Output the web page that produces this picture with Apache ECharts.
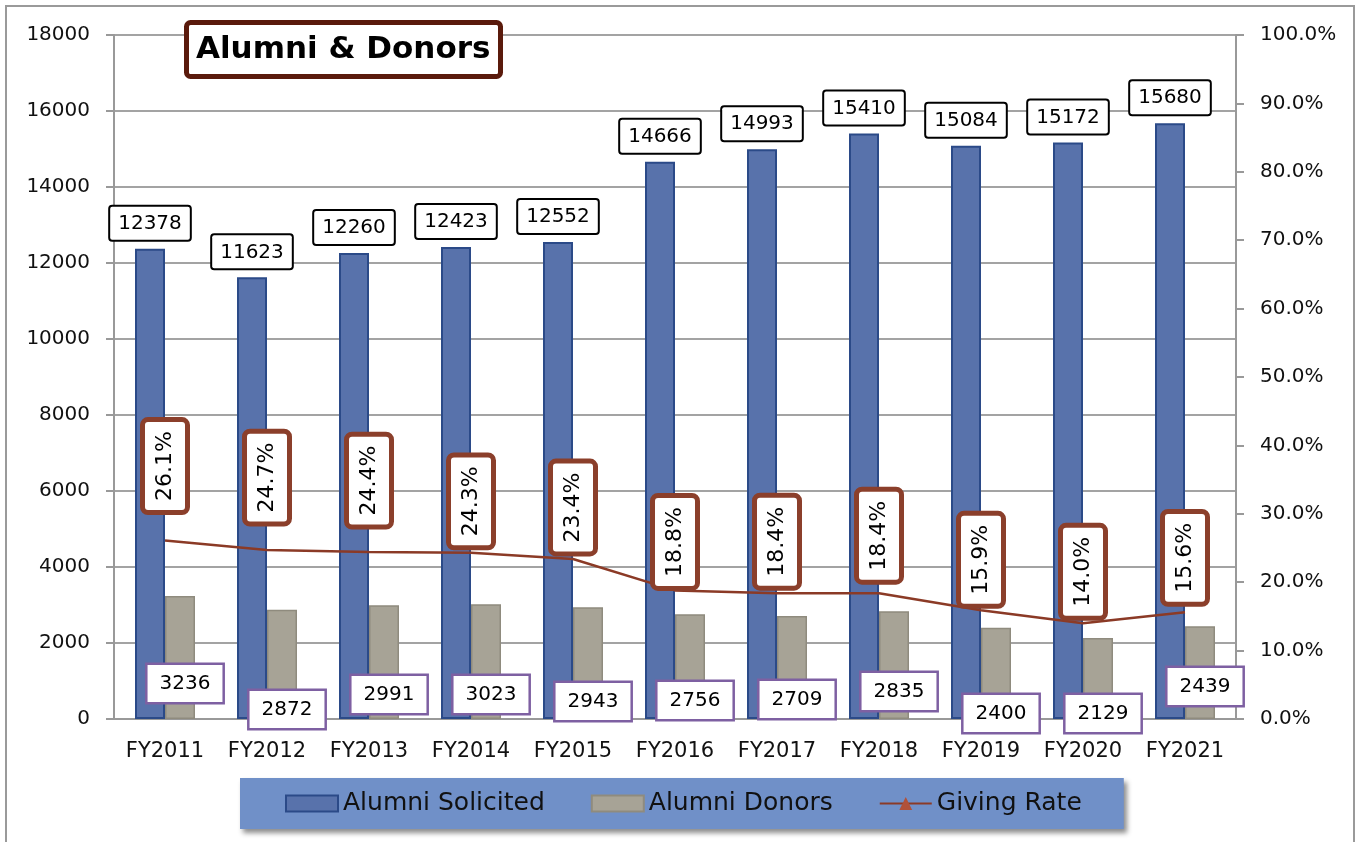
<!DOCTYPE html>
<html>
<head>
<meta charset="utf-8">
<script src="https://cdn.jsdelivr.net/npm/echarts@6/dist/echarts.min.js"></script>
<style>
html,body{margin:0;padding:0;background:#fff;}
#chart{width:1356px;height:842px;}
</style>
</head>
<body>
<div id="chart"></div>
<script>
const categories = ['FY2011','FY2012','FY2013','FY2014','FY2015','FY2016','FY2017','FY2018','FY2019','FY2020','FY2021'];
const alumniSolicited = [12378, 11623, 12260, 12423, 12552, 14666, 14993, 15410, 15084, 15172, 15680];
const alumniDonors = [3236, 2872, 2991, 3023, 2943, 2756, 2709, 2835, 2400, 2129, 2439];
const givingRate = [26.1, 24.7, 24.4, 24.3, 23.4, 18.8, 18.4, 18.4, 15.9, 14.0, 15.6];

// label nudges (layout only)
const rateLabelGap = [30, 28, 27, 7, 7, 4, 7, 13, 6, 7, 10];
const donorLabelLift = [17, -9, 6, 6, -1, 0, 1, 9, -13, -13, 14];

const FONT = 'DejaVu Sans';
const chart = echarts.init(document.getElementById('chart'));

const option = {
  animation: false,
  textStyle: { fontFamily: FONT },
  graphic: [{
    type: 'rect', z: -10,
    shape: { x: 6, y: 6, width: 1348, height: 850 },
    style: { fill: 'none', stroke: '#9a9a9a', lineWidth: 2 }
  }],
  title: {
    text: 'Alumni & Donors',
    left: 186, top: 22,
    padding: [6, 10, 5, 10],
    backgroundColor: '#fff',
    borderColor: '#5a1a0c',
    borderWidth: 5,
    borderRadius: 4,
    textStyle: { fontFamily: FONT, fontSize: 31, fontWeight: 'bold', color: '#000', lineHeight: 44 }
  },
  legend: {
    left: 240, top: 778,
    padding: [13, 42, 13, 45],
    backgroundColor: '#7090c8',
    shadowColor: 'rgba(0,0,0,0.45)', shadowBlur: 5, shadowOffsetX: 3, shadowOffsetY: 4,
    itemWidth: 52, itemHeight: 16, itemGap: 46,
    textStyle: { fontFamily: FONT, fontSize: 25, color: '#111' },
    data: [
      { name: 'Alumni Solicited', icon: 'rect' },
      { name: 'Alumni Donors', icon: 'rect' },
      { name: 'Giving Rate' }
    ]
  },
  grid: { left: 114, right: 120, top: 35, bottom: 123 },
  xAxis: {
    type: 'category',
    data: categories,
    axisLine: { lineStyle: { color: '#999', width: 2 } },
    axisTick: { length: 8, lineStyle: { color: '#999', width: 2 } },
    axisLabel: { interval: 0, fontFamily: FONT, fontSize: 21, color: '#111', margin: 22 }
  },
  yAxis: [{
    type: 'value', min: 0, max: 18000, interval: 2000,
    axisLine: { show: true, lineStyle: { color: '#999', width: 2 } },
    axisTick: { show: true, length: 8, lineStyle: { color: '#999', width: 2 } },
    axisLabel: { fontFamily: FONT, fontSize: 20, color: '#111', margin: 24,
      formatter: v => String(v) },
    splitLine: { lineStyle: { color: '#a3a3a3', width: 2 } }
  }, {
    type: 'value', min: 0, max: 100, interval: 10,
    axisLine: { show: true, lineStyle: { color: '#999', width: 2 } },
    axisTick: { show: true, length: 8, lineStyle: { color: '#999', width: 2 } },
    axisLabel: { fontFamily: FONT, fontSize: 20, color: '#111', margin: 24,
      formatter: v => v.toFixed(1) + '%' },
    splitLine: { show: false }
  }],
  series: [{
    name: 'Alumni Solicited',
    type: 'bar',
    barWidth: 30, barGap: '0%',
    data: alumniSolicited,
    itemStyle: { color: '#5872ab', borderColor: '#2b4a88', borderWidth: 2 },
    label: {
      show: true, position: 'top', distance: 9,
      fontFamily: FONT, fontSize: 20, color: '#000', lineHeight: 22,
      backgroundColor: '#fff', borderColor: '#000', borderWidth: 2, borderRadius: 2,
      padding: [6, 8, 5, 8]
    }
  }, {
    name: 'Alumni Donors',
    type: 'bar',
    barWidth: 30,
    data: alumniDonors.map((v, i) => ({
      value: v,
      label: { offset: [5, -donorLabelLift[i]] }
    })),
    itemStyle: { color: '#a7a396', borderColor: '#8f8b7e', borderWidth: 1.5 },
    label: {
      show: true, position: 'insideBottom', distance: 0,
      fontFamily: FONT, fontSize: 20, color: '#000', lineHeight: 24,
      backgroundColor: '#fff', borderColor: '#7e60a2', borderWidth: 2.5,
      padding: [7, 12, 6, 12]
    },
    z: 3
  }, {
    name: 'Giving Rate',
    type: 'line',
    yAxisIndex: 1,
    symbol: 'triangle', symbolSize: 12, showSymbol: false,
    data: givingRate,
    lineStyle: { color: '#8b3a26', width: 2.5 },
    itemStyle: { color: '#b0513a', borderColor: '#8b3a26' },
    z: 4
  }, {
    name: 'Giving Rate Labels',
    type: 'scatter',
    yAxisIndex: 1,
    symbolSize: 1,
    silent: true,
    itemStyle: { color: 'rgba(0,0,0,0)', opacity: 1 },
    emphasis: { disabled: true },
    data: givingRate.map((v, i) => ({
      value: v,
      label: { distance: rateLabelGap[i] }
    })),
    label: {
      show: true, position: 'top', rotate: 90, align: 'left', verticalAlign: 'middle',
      formatter: p => p.value.toFixed(1) + '%',
      fontFamily: FONT, fontSize: 22, color: '#000', lineHeight: 26, opacity: 1,
      backgroundColor: '#fff', borderColor: '#8b3f2b', borderWidth: 5, borderRadius: 3,
      padding: [7, 9, 7, 9]
    },
    z: 6
  }]
};
chart.setOption(option);
</script>
</body>
</html>
